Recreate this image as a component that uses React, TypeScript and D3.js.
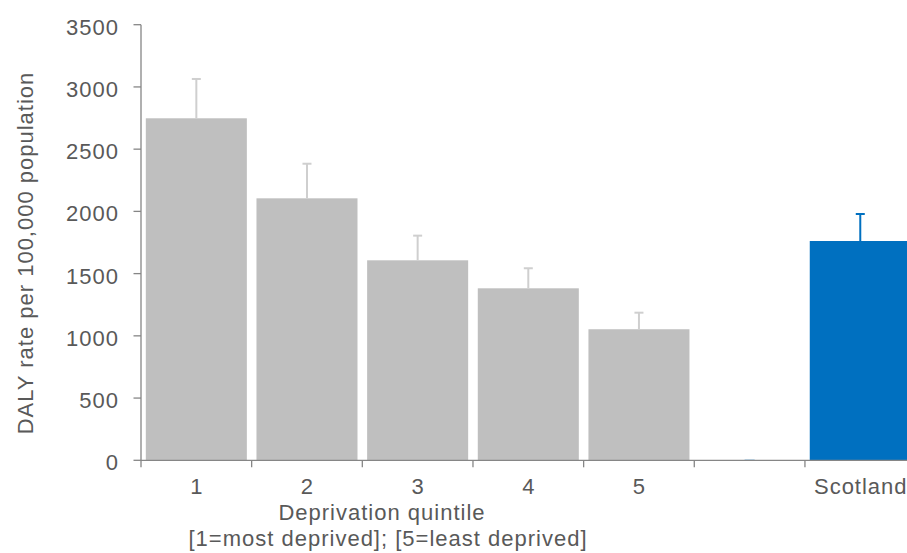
import React from "react";
import * as d3 from "d3";

const categories = ["1", "2", "3", "4", "5", "", "Scotland"];
const values: (number | null)[] = [2748, 2105, 1607, 1382, 1053, null, 1762];
const upper: (number | null)[] = [3064, 2383, 1805, 1543, 1186, null, 1979];
const yTicks = [0, 500, 1000, 1500, 2000, 2500, 3000, 3500];
const yTitle = "DALY rate per 100,000 population";
const xTitle1 = "Deprivation quintile";
const xTitle2 = "[1=most deprived]; [5=least deprived]";

const W = 907;
const H = 553;
const left = 141;
const right = 915.6;
const top = 24.7;
const bottom = 460.3;

const GREY = "#bfbfbf";
const BLUE = "#0070c0";
const AXIS = "#868686";
const TEXT = "#595959";
const FONT = "'Liberation Sans', Arial, Helvetica, sans-serif";
const FS = 22;
const LS = 1.0;

export default function App() {
  const x = d3
    .scaleBand<string>()
    .domain(categories.map((c, i) => String(i)))
    .range([left, right])
    .paddingInner(0.087)
    .paddingOuter(0.0435);
  const y = d3.scaleLinear().domain([0, 3500]).range([bottom, top]);
  const step = x.step();
  const boundaries = d3.range(categories.length + 1).map((i) => left + i * step);

  return (
    <svg
      width={W}
      height={H}
      style={{ position: "absolute", left: 0, top: 0, background: "#fff" }}
      fontFamily={FONT}
      letterSpacing={LS}
    >
      {/* faint second-series markers at baseline */}
      {categories.map((c, i) =>
        i === 6 ? null : (
          <line
            key={"m" + i}
            x1={x(String(i))! + x.bandwidth() / 2 - 5}
            x2={x(String(i))! + x.bandwidth() / 2 + 5}
            y1={bottom - 0.5}
            y2={bottom - 0.5}
            stroke={BLUE}
            strokeOpacity={0.35}
            strokeWidth={1}
          />
        )
      )}
      {/* bars */}
      {values.map((v, i) =>
        v == null ? null : (
          <rect
            key={"b" + i}
            x={x(String(i))}
            y={y(v)}
            width={x.bandwidth()}
            height={y(0) - y(v)}
            fill={i === 6 ? BLUE : GREY}
          />
        )
      )}
      {/* error bars */}
      {values.map((v, i) => {
        const u = upper[i];
        if (v == null || u == null) return null;
        const cx = x(String(i))! + x.bandwidth() / 2;
        const col = i === 6 ? BLUE : "#cfcfcf";
        return (
          <g key={"e" + i} stroke={col} strokeWidth={2}>
            <line x1={cx} x2={cx} y1={y(v)} y2={y(u)} />
            <line x1={cx - 4.5} x2={cx + 4.5} y1={y(u)} y2={y(u)} />
          </g>
        );
      })}
      {/* y axis */}
      <line x1={left} x2={left} y1={top} y2={bottom} stroke={AXIS} strokeWidth={1.3} />
      {yTicks.map((t) => (
        <g key={"yt" + t}>
          <line x1={left - 7.5} x2={left} y1={y(t)} y2={y(t)} stroke={AXIS} strokeWidth={1.3} />
          <text
            x={left - 22}
            y={y(t)}
            dy="0.45em"
            textAnchor="end"
            fontSize={FS}
            fill={TEXT}
          >
            {t}
          </text>
        </g>
      ))}
      {/* x axis */}
      <line x1={left} x2={right} y1={bottom} y2={bottom} stroke={AXIS} strokeWidth={1.3} />
      {boundaries.map((b, i) => (
        <line key={"xt" + i} x1={b} x2={b} y1={bottom} y2={bottom + 7} stroke={AXIS} strokeWidth={1.3} />
      ))}
      {categories.map((c, i) => (
        <text
          key={"xl" + i}
          x={x(String(i))! + x.bandwidth() / 2 + LS / 2}
          y={493.5}
          textAnchor="middle"
          fontSize={FS}
          fill={TEXT}
        >
          {c}
        </text>
      ))}
      <text x={382} y={520} textAnchor="middle" fontSize={FS} fill={TEXT}>
        {xTitle1}
      </text>
      <text x={388} y={546} textAnchor="middle" fontSize={FS} fill={TEXT}>
        {xTitle2}
      </text>
      <text
        transform={`translate(33, 253) rotate(-90)`}
        textAnchor="middle"
        fontSize={FS}
        fill={TEXT}
      >
        {yTitle}
      </text>
    </svg>
  );
}
